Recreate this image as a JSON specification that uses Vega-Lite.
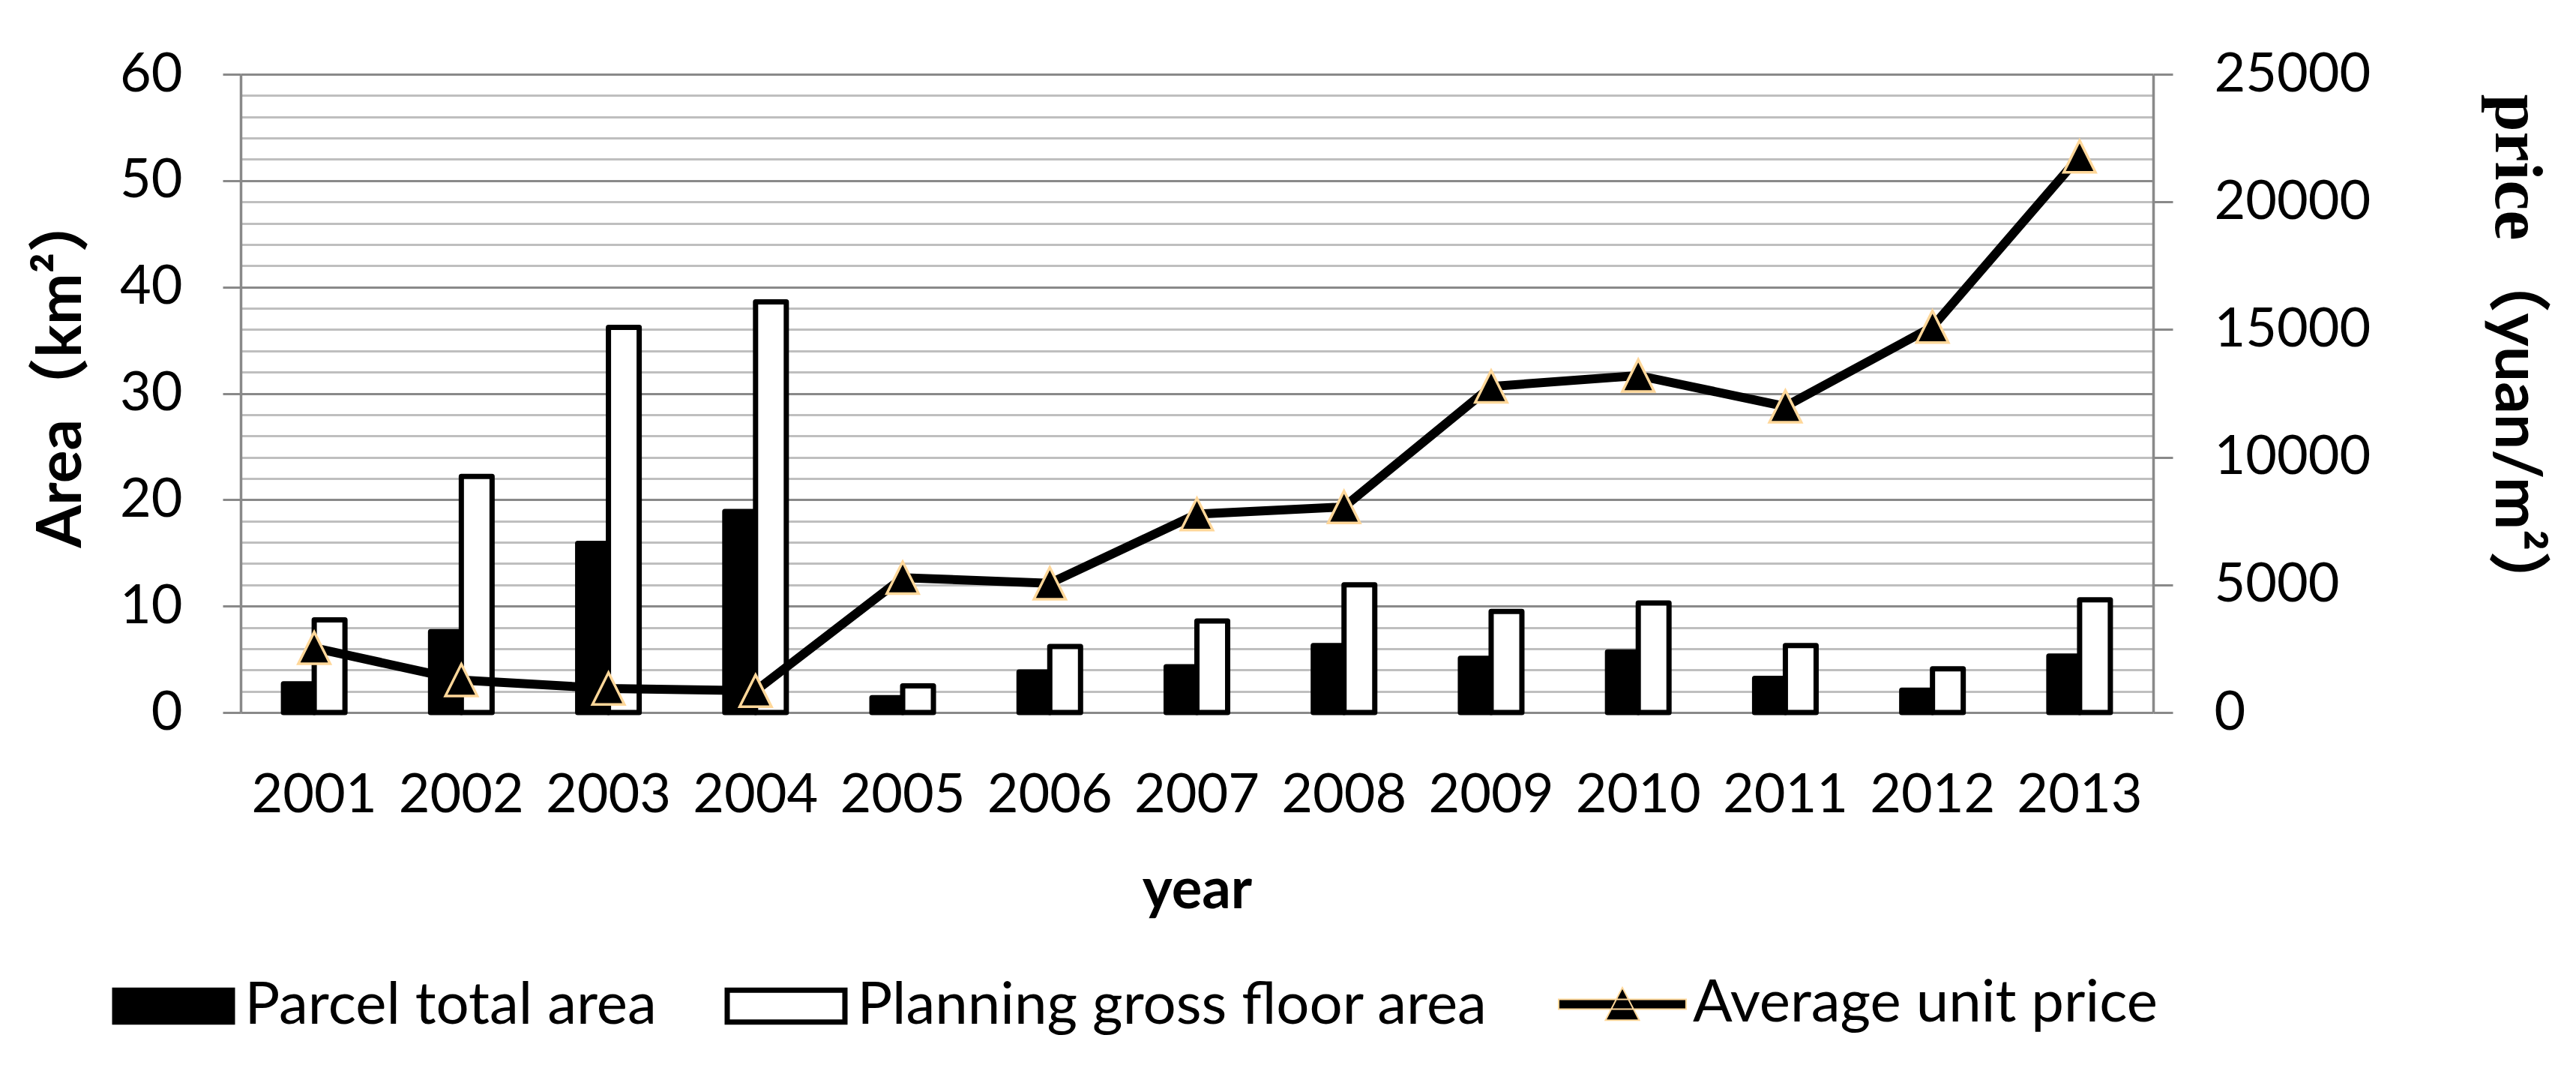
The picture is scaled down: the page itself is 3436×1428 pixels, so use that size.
{
  "$schema": "https://vega.github.io/schema/vega-lite/v6.json",
  "autosize": {"type": "none"},
  "width": 2551,
  "height": 851,
  "padding": {"left": 321, "top": 99, "right": 564, "bottom": 478},
  "background": "white",
  "config": {"view": {"stroke": null}},
  "data": {"values": [
    {"year": "2001", "series": "Parcel total area", "value": 2.7},
    {"year": "2002", "series": "Parcel total area", "value": 7.6},
    {"year": "2003", "series": "Parcel total area", "value": 15.9},
    {"year": "2004", "series": "Parcel total area", "value": 18.9},
    {"year": "2005", "series": "Parcel total area", "value": 1.4},
    {"year": "2006", "series": "Parcel total area", "value": 3.8},
    {"year": "2007", "series": "Parcel total area", "value": 4.3},
    {"year": "2008", "series": "Parcel total area", "value": 6.3},
    {"year": "2009", "series": "Parcel total area", "value": 5.1},
    {"year": "2010", "series": "Parcel total area", "value": 5.7},
    {"year": "2011", "series": "Parcel total area", "value": 3.2},
    {"year": "2012", "series": "Parcel total area", "value": 2.1},
    {"year": "2013", "series": "Parcel total area", "value": 5.3},
    {"year": "2001", "series": "Planning gross floor area", "value": 8.7},
    {"year": "2002", "series": "Planning gross floor area", "value": 22.2},
    {"year": "2003", "series": "Planning gross floor area", "value": 36.2},
    {"year": "2004", "series": "Planning gross floor area", "value": 38.6},
    {"year": "2005", "series": "Planning gross floor area", "value": 2.5},
    {"year": "2006", "series": "Planning gross floor area", "value": 6.2},
    {"year": "2007", "series": "Planning gross floor area", "value": 8.6},
    {"year": "2008", "series": "Planning gross floor area", "value": 12.0},
    {"year": "2009", "series": "Planning gross floor area", "value": 9.5},
    {"year": "2010", "series": "Planning gross floor area", "value": 10.3},
    {"year": "2011", "series": "Planning gross floor area", "value": 6.3},
    {"year": "2012", "series": "Planning gross floor area", "value": 4.1},
    {"year": "2013", "series": "Planning gross floor area", "value": 10.6},
    {"year": "2001", "series": "Average unit price", "value": 2530},
    {"year": "2002", "series": "Average unit price", "value": 1270},
    {"year": "2003", "series": "Average unit price", "value": 940},
    {"year": "2004", "series": "Average unit price", "value": 850},
    {"year": "2005", "series": "Average unit price", "value": 5280},
    {"year": "2006", "series": "Average unit price", "value": 5060},
    {"year": "2007", "series": "Average unit price", "value": 7770},
    {"year": "2008", "series": "Average unit price", "value": 8050},
    {"year": "2009", "series": "Average unit price", "value": 12770},
    {"year": "2010", "series": "Average unit price", "value": 13200},
    {"year": "2011", "series": "Average unit price", "value": 11990},
    {"year": "2012", "series": "Average unit price", "value": 15110},
    {"year": "2013", "series": "Average unit price", "value": 21780}
  ]},
  "encoding": {
    "x": {
      "field": "year", "type": "nominal",
      "scale": {"paddingInner": 0.582, "paddingOuter": 0.291},
      "axis": {
        "title": "year", "titleFont": "Lato", "titleFontWeight": "bold", "titleFontSize": 76,
        "titleColor": "black", "titleBaseline": "alphabetic", "titleY": 260,
        "labelFont": "Lato", "labelFontSize": 72, "labelColor": "black", "labelAngle": 0,
        "labelBaseline": "alphabetic", "labelPadding": 132,
        "ticks": false, "tickSize": 0, "domain": false, "grid": false
      }
    }
  },
  "layer": [
    {
      "transform": [{"filter": "datum.series !== 'Average unit price'"}],
      "mark": {"type": "bar", "stroke": "black", "strokeWidth": 7, "strokeJoin": "round"},
      "encoding": {
        "xOffset": {"field": "series", "type": "nominal",
          "scale": {"domain": ["Parcel total area", "Planning gross floor area"], "paddingInner": 0, "paddingOuter": 0}},
        "y": {
          "field": "value", "type": "quantitative",
          "scale": {"domain": [0, 60], "nice": false},
          "axis": {
            "orient": "left",
            "values": [0,2,4,6,8,10,12,14,16,18,20,22,24,26,28,30,32,34,36,38,40,42,44,46,48,50,52,54,56,58,60],
            "labelExpr": "datum.value % 10 === 0 ? datum.label : ''",
            "title": "Area（km²）", "titleFont": "Lato, Noto Sans CJK SC", "titleFontWeight": "bold",
            "titleFontSize": 82, "titleColor": "black", "titleAngle": -90,
            "titleAlign": "left", "titleBaseline": "alphabetic", "titleX": -214, "titleY": 631,
            "labelFont": "Lato", "labelFontSize": 72, "labelColor": "black", "labelPadding": 54,
            "tickSize": 24, "tickWidth": 3, "tickColor": "#898989",
            "tickOpacity": {"condition": {"test": "datum.value % 10 === 0", "value": 1}, "value": 0},
            "domainColor": "#898989", "domainWidth": 3.5,
            "grid": true, "gridWidth": 3,
            "gridColor": {"condition": {"test": "datum.value % 10 === 0", "value": "#898989"}, "value": "#BFBFBF"}
          }
        },
        "fill": {
          "field": "series", "type": "nominal",
          "scale": {"domain": ["Parcel total area", "Planning gross floor area"],
                    "range": ["#000000", "#ffffff"]},
          "legend": {
            "title": null, "orient": "none", "legendX": -171.5, "legendY": 1160.5,
            "direction": "horizontal", "columns": 2, "padding": 0,
            "columnPadding": 79, "labelOffset": 13, "symbolSize": 24649,
            "symbolType": "M-1,-0.27H1V0.27H-1Z",
            "symbolStrokeColor": "black", "symbolStrokeWidth": 7,
            "labelFont": "Lato", "labelFontSize": 78, "labelColor": "black", "labelLimit": 1200
          }
        }
      }
    },
    {
      "transform": [{"filter": "datum.series === 'Average unit price'"}],
      "mark": {"type": "line", "color": "black", "strokeWidth": 12},
      "encoding": {
        "y": {
          "field": "value", "type": "quantitative",
          "scale": {"domain": [0, 25000], "nice": false},
          "axis": {
            "orient": "right", "values": [0, 5000, 10000, 15000, 20000, 25000], "format": "d",
            "title": "（yuan/m²）", "titleFont": "Lato, Noto Sans CJK SC", "titleFontWeight": "bold",
            "titleFontSize": 84, "titleColor": "black", "titleAngle": 90,
            "titleAlign": "left", "titleBaseline": "alphabetic", "titleX": 456, "titleY": 234,
            "labelFont": "Lato", "labelFontSize": 72, "labelColor": "black", "labelPadding": 55, "labelLimit": 600,
            "tickSize": 26, "tickWidth": 3, "tickColor": "#898989",
            "domainColor": "#898989", "domainWidth": 3.5, "grid": false
          }
        }
      }
    },
    {
      "transform": [{"filter": "datum.series === 'Average unit price'"}],
      "mark": {"type": "point", "shape": "M0,-1L1,1L-1,1Z", "filled": true,
               "stroke": "#FFD799", "strokeWidth": 3.5, "size": 1800, "opacity": 1},
      "encoding": {
        "y": {
          "field": "value", "type": "quantitative",
          "scale": {"domain": [0, 25000], "nice": false},
          "axis": {
            "orient": "right", "labels": false, "ticks": false, "domain": false, "grid": false,
            "title": "price", "titleFont": "Liberation Serif", "titleFontWeight": "bold",
            "titleFontSize": 90, "titleColor": "black", "titleAngle": 90,
            "titleAlign": "left", "titleBaseline": "alphabetic", "titleX": 456, "titleY": 26
          }
        },
        "fill": {
          "field": "series", "type": "nominal",
          "scale": {"domain": ["Average unit price"], "range": ["#000000"]},
          "legend": {
            "title": null, "orient": "none", "legendX": 1757, "legendY": 1154,
            "direction": "horizontal", "padding": 0, "labelOffset": 8, "symbolSize": 28900,
            "symbolType": "M-1,-0.076H1V0.076H-1Z M0,-0.26L0.265,0.25H-0.265Z",
            "symbolStrokeColor": "#FFD799", "symbolStrokeWidth": 2, "symbolOpacity": 1,
            "labelFont": "Lato", "labelFontSize": 78, "labelColor": "black", "labelLimit": 1200
          }
        }
      }
    }
  ],
  "resolve": {"scale": {"y": "independent", "fill": "independent"}}
}
